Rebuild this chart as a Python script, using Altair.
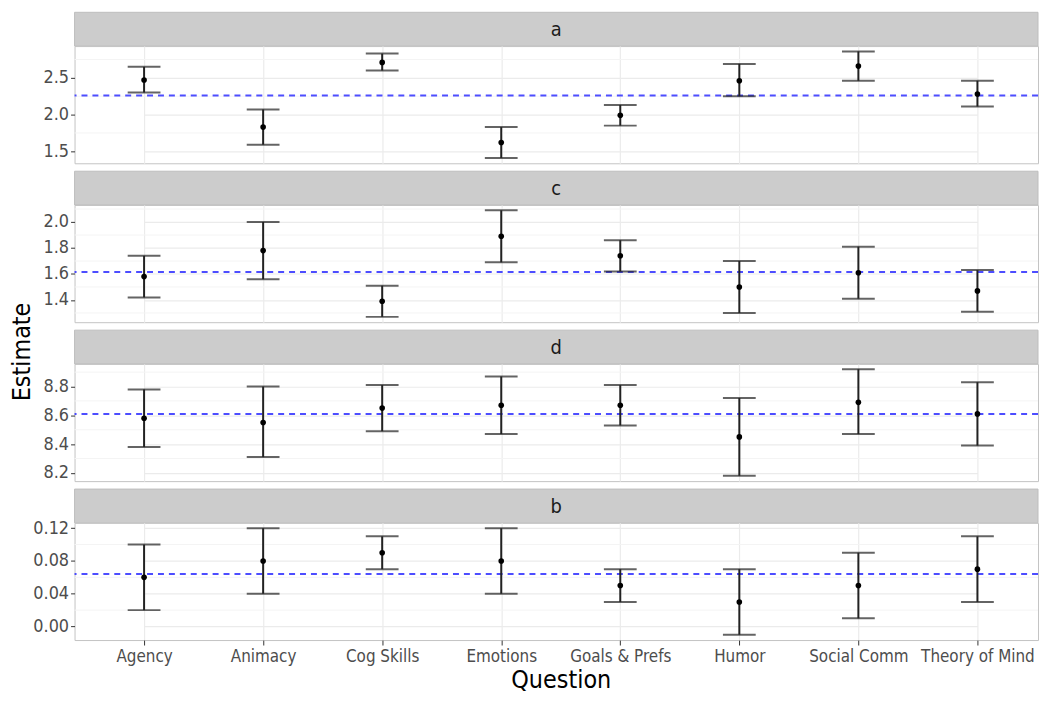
import altair as alt
import pandas as pd

F = "'Liberation Sans Narrow', 'Arial Narrow', 'DejaVu Sans Condensed', 'Liberation Sans', Arial, sans-serif"

questions = ["Agency", "Animacy", "Cog Skills", "Emotions", "Goals & Prefs",
             "Humor", "Social Comm", "Theory of Mind"]

a_est = [2.47, 1.83, 2.71, 1.62, 1.99, 2.46, 2.66, 2.28]
a_lo = [2.30, 1.59, 2.60, 1.41, 1.85, 2.25, 2.46, 2.11]
a_hi = [2.65, 2.07, 2.83, 1.83, 2.13, 2.69, 2.86, 2.46]
a_ref = 2.26
a_ticks = [1.5, 2.0, 2.5]

c_est = [1.58, 1.78, 1.39, 1.89, 1.74, 1.50, 1.61, 1.47]
c_lo = [1.42, 1.56, 1.27, 1.69, 1.62, 1.30, 1.41, 1.31]
c_hi = [1.74, 2.00, 1.51, 2.09, 1.86, 1.70, 1.81, 1.63]
c_ref = 1.615
c_ticks = [1.4, 1.6, 1.8, 2.0]

d_est = [8.58, 8.55, 8.65, 8.67, 8.67, 8.45, 8.69, 8.61]
d_lo = [8.38, 8.31, 8.49, 8.47, 8.53, 8.18, 8.47, 8.39]
d_hi = [8.78, 8.80, 8.81, 8.87, 8.81, 8.72, 8.92, 8.83]
d_ref = 8.61
d_ticks = [8.2, 8.4, 8.6, 8.8]

b_est = [0.06, 0.08, 0.09, 0.08, 0.05, 0.03, 0.05, 0.07]
b_lo = [0.02, 0.04, 0.07, 0.04, 0.03, -0.01, 0.01, 0.03]
b_hi = [0.10, 0.12, 0.11, 0.12, 0.07, 0.07, 0.09, 0.11]
b_ref = 0.064
b_ticks = [0.00, 0.04, 0.08, 0.12]

W = 970
PH = 118
SH = 34
GAP = 8
LFS = 17
YFS = 18


def strip(label, top_gap):
    src = alt.Data(values=[{"s": label}])
    rect = alt.Chart(src).mark_rect(fill="#CCCCCC", stroke="#BDBDBD", strokeWidth=1).encode(
        x=alt.value(0), x2=alt.value(W), y=alt.value(top_gap), y2=alt.value(top_gap + SH))
    txt = alt.Chart(src).mark_text(font=F, fontSize=20, color="#1A1A1A",
                                   align="center", baseline="middle").encode(
        text="s:N", x=alt.value(W / 2), y=alt.value(top_gap + SH / 2 + 1))
    return alt.layer(rect, txt).properties(
        width=W, height=SH + top_gap, view=alt.ViewBackground(stroke=None))


def panel(est, lo, hi, ref, ticks, fmt, bottom=False, ytitle=False):
    df = pd.DataFrame({"Question": questions, "est": est, "lo": lo, "hi": hi})
    mn, mx = min(lo), max(hi)
    r = mx - mn
    dom = [mn - 0.05 * r, mx + 0.05 * r]
    step = ticks[1] - ticks[0]
    minors = [t + step / 2 for t in [ticks[0] - step] + ticks]
    minors = [m for m in minors if dom[0] < m < dom[1]]
    ys = alt.Scale(domain=dom, nice=False, zero=False)

    if bottom:
        xaxis = alt.Axis(grid=True, gridColor="#EBEBEB", gridWidth=1.2, labels=True, ticks=True,
                         tickSize=5, tickColor="#333333", domain=False, labelAngle=0,
                         labelFont=F, labelFontSize=LFS, labelColor="#4D4D4D", labelPadding=4,
                         labelOverlap=False,
                         title="Question", titleFont=F, titleFontSize=25, titleColor="#000000",
                         titleFontWeight="normal", titlePadding=3)
    else:
        xaxis = alt.Axis(grid=True, gridColor="#EBEBEB", gridWidth=1.2, labels=False, ticks=False,
                         domain=False, title=None)
    xs = alt.Scale(type="point", range=[70, 909], padding=0)
    X = alt.X("Question:N", sort=questions, scale=xs, axis=xaxis)
    yaxis = alt.Axis(values=ticks, format=fmt, grid=True, gridColor="#EBEBEB", gridWidth=1.2,
                     domain=False, ticks=True, tickColor="#333333", tickSize=4,
                     labelFont=F, labelFontSize=YFS, labelColor="#4D4D4D", labelPadding=2,
                     labelOverlap=False, labelFlush=False, labelBound=False, title=None)

    def Y(field):
        return alt.Y(field, scale=ys, axis=yaxis, title=None)

    base = alt.Chart(df)
    minor = alt.Chart(pd.DataFrame({"m": minors})).mark_rule(color="#F4F4F4", strokeWidth=1).encode(
        y=Y("m:Q"))
    refl = alt.Chart(pd.DataFrame({"ref": [ref]})).mark_rule(
        color="#3A3AFF", strokeDash=[6, 5], strokeWidth=2, opacity=0.9).encode(
        y=Y("ref:Q"))
    bars = base.mark_rule(color="#222222", strokeWidth=2).encode(
        x=X, y=Y("lo:Q"), y2="hi:Q")
    cap_lo = base.mark_tick(color="#222222", size=33, thickness=2).encode(
        x=X, y=Y("lo:Q"))
    cap_hi = base.mark_tick(color="#222222", size=33, thickness=2).encode(
        x=X, y=Y("hi:Q"))
    pts = base.mark_circle(color="#000000", size=32, opacity=1).encode(
        x=X, y=Y("est:Q"))
    layers = [minor, refl, bars, cap_lo, cap_hi, pts]
    if ytitle:
        t = alt.Chart(alt.Data(values=[{"t": "Estimate"}])).mark_text(
            angle=270, font=F, fontSize=25, color="#000000", align="center",
            baseline="middle").encode(text="t:N", x=alt.value(-53), y=alt.value(-12))
        layers.append(t)
    return alt.layer(*layers).properties(
        width=W, height=PH, view=alt.ViewBackground(stroke="#C4C4C4", strokeWidth=1))


chart = alt.vconcat(
    strip("a", 0),
    panel(a_est, a_lo, a_hi, a_ref, a_ticks, ".1f"),
    strip("c", GAP),
    panel(c_est, c_lo, c_hi, c_ref, c_ticks, ".1f"),
    strip("d", GAP),
    panel(d_est, d_lo, d_hi, d_ref, d_ticks, ".1f", ytitle=True),
    strip("b", GAP),
    panel(b_est, b_lo, b_hi, b_ref, b_ticks, ".2f", bottom=True),
    spacing=0,
    bounds="flush",
).properties(
    padding={"left": 1, "top": 1, "right": 0, "bottom": 0},
    background="white",
).configure_axis(labelOverlap=False)

chart.save("out.html", embed_options={"renderer": "svg", "actions": False})
